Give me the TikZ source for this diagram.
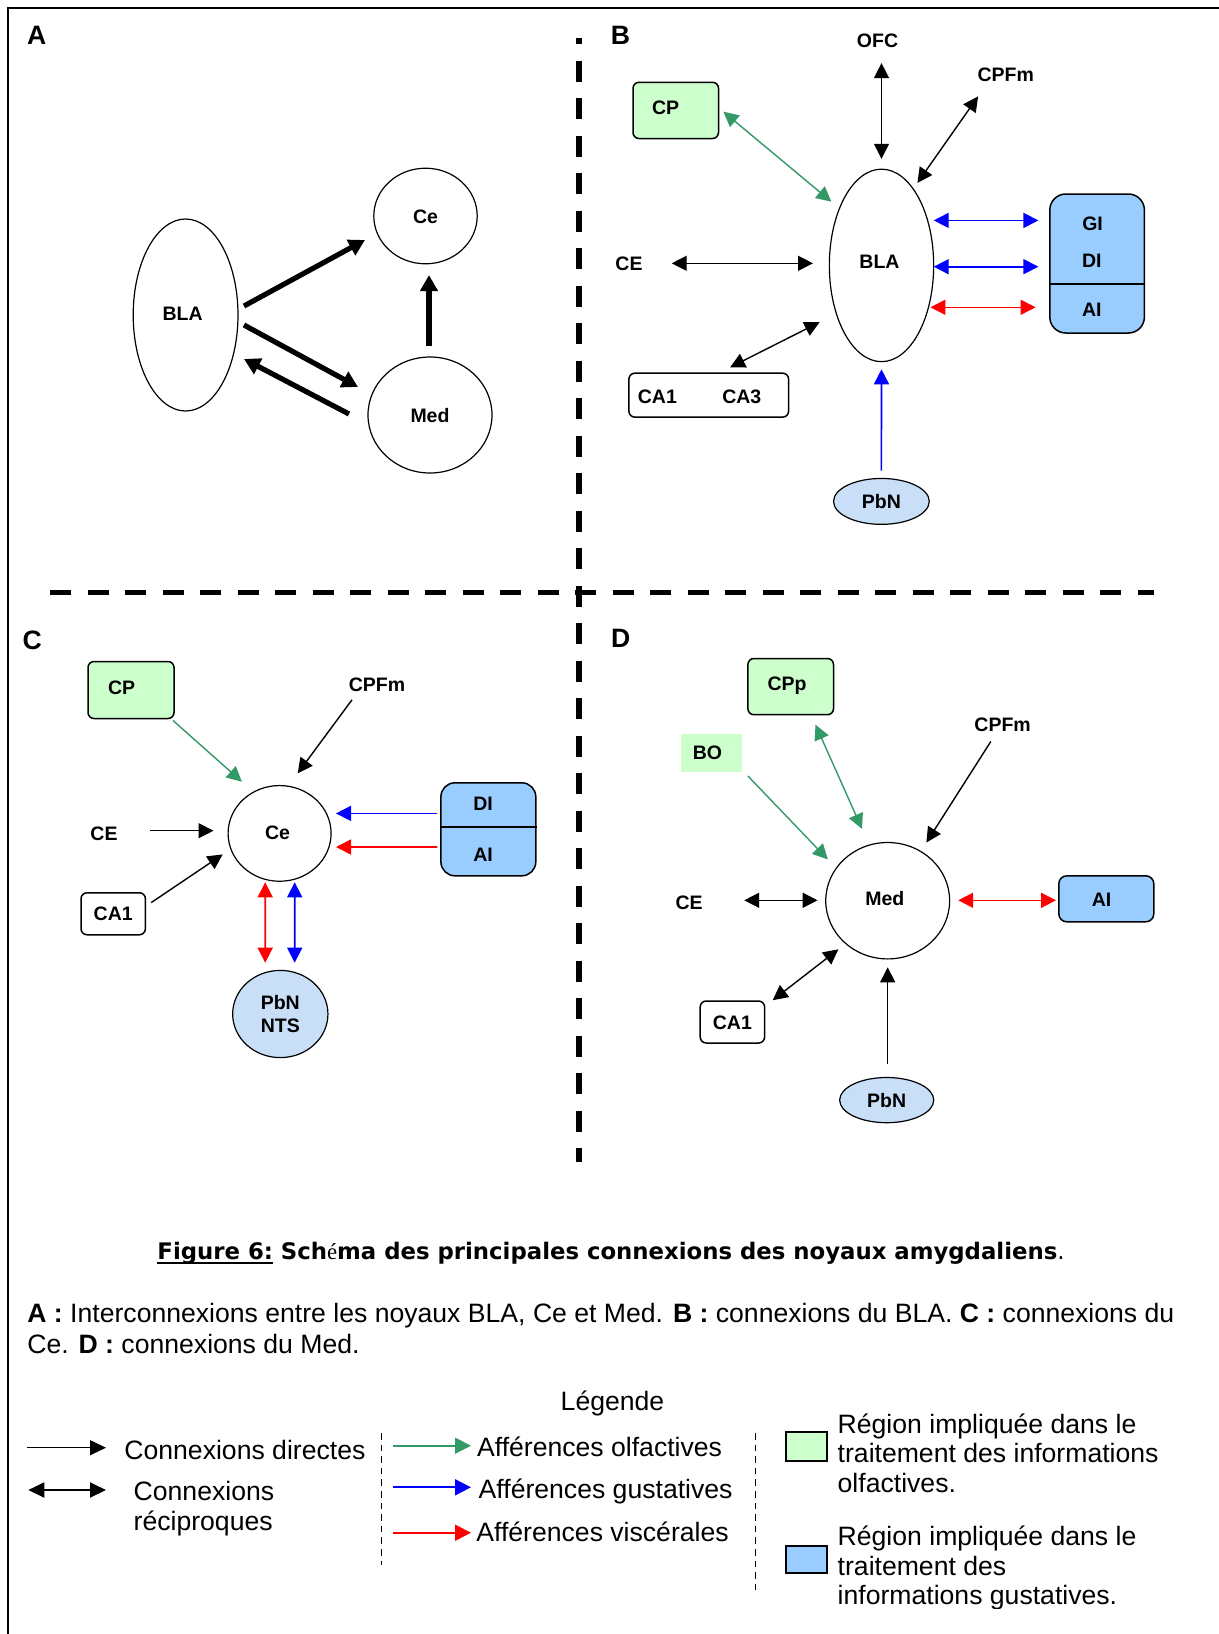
\documentclass[tikz,border=0pt]{standalone}
\usepackage{fontspec}
\setmainfont{Liberation Sans}
\newfontfamily\capfont{DejaVu Sans}
\newfontfamily\serifrm{Liberation Serif}
\usetikzlibrary{arrows.meta,shapes.geometric}
\definecolor{olfgreen}{HTML}{339966}
\definecolor{gusblue}{HTML}{0000FF}
\definecolor{visred}{HTML}{FF0000}
\definecolor{boxgreen}{HTML}{CCFFCC}
\definecolor{boxblue}{HTML}{99CCFF}
\definecolor{pbnblue}{HTML}{C9DFF8}
\newcommand\myul[1]{\setbox0=\hbox{#1}\rlap{\rule[-2.4pt]{\wd0}{0.9pt}}\box0\relax}
\tikzset{
  lbl/.style={font=\fontsize{9.75pt}{11.7pt}\selectfont\bfseries, inner sep=0pt, text height=7pt, text depth=0pt},
  panel/.style={font=\fontsize{13.3pt}{16pt}\selectfont\bfseries, inner sep=0pt, text height=9.5pt, text depth=0pt},
  body/.style={font=\fontsize{13.3pt}{15.3pt}\selectfont, inner sep=0pt, anchor=base west},
  nucbase/.style={ellipse, draw, line width=0.6pt, inner sep=0pt, font=\fontsize{9.75pt}{11.9pt}\selectfont\bfseries},
  nuc/.style={nucbase, text height=7pt, text depth=0pt},
  pbn/.style={fill=pbnblue},
  gbox/.style={draw, rounded corners=3pt, fill=boxgreen, line width=0.75pt, inner sep=0pt},
  bbox/.style={draw, rounded corners=4pt, fill=boxblue, line width=0.75pt, inner sep=0pt},
  wbox/.style={draw, rounded corners=3pt, fill=white, line width=0.75pt, inner sep=0pt, lbl},
  thk/.style={line width=2.6pt, -{Triangle[length=8pt,width=8.5pt]}},
  conb/.style={line width=0.7pt, black},
  cong/.style={line width=0.7pt, olfgreen},
  conu/.style={line width=0.8pt, gusblue},
  conr/.style={line width=0.8pt, visred},
  sep/.style={line width=2.7pt, dash pattern=on 10.5pt off 8.25pt},
  lsep/.style={line width=0.5pt, dash pattern=on 3.3pt off 2.5pt},
  lgarr/.style={-{Triangle[length=8pt,width=7.5pt]}},
}
\begin{document}
\begin{tikzpicture}[x=0.5pt,y=-0.5pt, >={Triangle[length=7.5pt,width=7.5pt]}]
\useasboundingbox (0,0) rectangle (1219,1634);
% frame
\draw[line width=1pt] (8.4,1634) -- (8.4,8.4) -- (1219,8.4);
% separators
\draw[sep, dash phase=7.5pt] (579,38) -- (579,1162);
\draw[sep] (50,592.5) -- (1154,592.5);

% ---------------- Panel A
\node[panel] (labA) at (36.7,35) {A};
\node[nuc, minimum width=52.4pt, minimum height=96pt] (BLAa) at (185.6,315) {};
\node[lbl] (BLAat) at (182.7,313) {BLA};
\node[nuc, minimum width=51.7pt, minimum height=47.8pt] (Cea) at (425.5,216) {Ce};
\node[nuc, minimum width=62pt, minimum height=58pt] (Meda) at (430,415) {Med};
\draw[thk] ([shift={(58.4,-9)}]BLAa.center) -- ([shift={(-60.5,24)}]Cea.center);
\draw[thk] ([shift={(58.4,10)}]BLAa.center) -- ([shift={(-72,-28)}]Meda.center);
\draw[thk] ([shift={(-81,-1)}]Meda.center) -- ([shift={(58.4,44)}]BLAa.center);
\draw[thk] ([shift={(-1,-69)}]Meda.center) -- ([shift={(3.5,59)}]Cea.center);

% ---------------- Panel B
\node[panel] (labB) at (620.4,34.5) {B};
\node[lbl] (OFCb) at (877.5,40.2) {OFC};
\node[lbl] (CPFmb) at (1005.8,74.6) {CPFm};
\node[gbox, minimum width=42.75pt, minimum height=28.1pt] (CPb) at (675.75,110.4) {};
\node[lbl] (CPbt) at (665.6,107.2) {CP};
\node[nuc, minimum width=52.15pt, minimum height=96.25pt] (BLAb) at (881.5,265.4) {};
\node[lbl] (BLAbt) at (879.5,261.4) {BLA};
\node[lbl] (CEb) at (629,263.3) {CE};
\node[bbox, rounded corners=8pt, minimum width=47.3pt, minimum height=69.5pt] (GIb) at (1097.1,263.5) {};
\draw[line width=0.9pt] ([shift={(0,20.1)}]GIb.west) -- ([shift={(0,20.1)}]GIb.east);
\node[lbl] (GIt) at (1092.6,223.9) {GI};
\node[lbl] (DIt) at (1091.8,260.2) {DI};
\node[lbl] (AIt) at (1091.8,309.2) {AI};
\node[wbox, minimum width=79.85pt, minimum height=22pt] (CAb) at (708.75,395.15) {};
\node[lbl] (CA1b) at (657.4,396.1) {CA1};
\node[lbl] (CA3b) at (741.8,396.1) {CA3};
\node[nuc, pbn, minimum width=47.85pt, minimum height=22.95pt] (PbNb) at (881.4,501.4) {PbN};
\draw[conb,<->] ([shift={(4,22.9)}]OFCb.center) -- ([shift={(0,-106.6)}]BLAb.center);
\draw[conb,<->] ([shift={(-27.7,21.8)}]CPFmb.center) -- ([shift={(35.9,-82.5)}]BLAb.center);
\draw[cong,<->] ([shift={(47.65,1.3)}]CPb.center) -- ([shift={(-50.1,-63.7)}]BLAb.center);
\draw[conb,<->] ([shift={(42.7,0)}]CEb.center) -- ([shift={(-68.5,-2.1)}]BLAb.center);
\draw[conu,<->] ([shift={(52.2,-45)}]BLAb.center) -- ([shift={(-58.7,-43.1)}]GIb.center);
\draw[conu,<->] ([shift={(52.2,1.3)}]BLAb.center) -- ([shift={(-58.7,3.2)}]GIb.center);
\draw[conr,<->] ([shift={(48.9,41.9)}]BLAb.center) -- ([shift={(-61.5,43.8)}]GIb.center);
\draw[conb,<->] ([shift={(21.25,-27.75)}]CAb.center) -- ([shift={(-61.9,56.8)}]BLAb.center);
\draw[conu,->] ([shift={(0,-30.7)}]PbNb.center) -- ([shift={(0,103.9)}]BLAb.center);

% ---------------- Panel C
\node[panel] (labC) at (32.2,640) {C};
\node[gbox, minimum width=43pt, minimum height=28.5pt] (CPc) at (131,690) {};
\node[lbl] (CPct) at (121.7,687.2) {CP};
\node[lbl] (CPFmc) at (377,684) {CPFm};
\node[nuc, minimum width=51.5pt, minimum height=47.85pt] (Cec) at (279.6,833.4) {};
\node[lbl] (Cect) at (277.5,832.6) {Ce};
\node[lbl] (CEc) at (104,833.4) {CE};
\node[wbox, minimum width=32.2pt, minimum height=21pt] (CA1c) at (113.2,913.75) {CA1};
\node[bbox, rounded corners=7pt, minimum width=47.45pt, minimum height=46.5pt] (DIAIc) at (488.35,829.3) {};
\draw[line width=0.9pt] ([shift={(0,-2.5)}]DIAIc.west) -- ([shift={(0,-2.5)}]DIAIc.east);
\node[lbl] (DIc) at (483,803) {DI};
\node[lbl] (AIc) at (483,854) {AI};
\node[nucbase, pbn, align=center, minimum width=47.65pt, minimum height=43.6pt] (PbNc) at (280.3,1014) {PbN\\NTS};
\draw[conb,->] ([shift={(-25,15.8)}]CPFmc.center) -- ([shift={(18.1,-60.1)}]Cec.center);
\draw[cong,->] ([shift={(42,30.5)}]CPc.center) -- ([shift={(-37.7,-51.7)}]Cec.center);
\draw[conb,->] ([shift={(46.4,-2.7)}]CEc.center) -- ([shift={(-66.1,-2.7)}]Cec.center);
\draw[conb,->] ([shift={(38,-11.15)}]CA1c.center) -- ([shift={(-56.9,21)}]Cec.center);
\draw[conu,->] ([shift={(-50.95,-15.9)}]DIAIc.center) -- ([shift={(56.4,-20)}]Cec.center);
\draw[conr,->] ([shift={(-50.95,17.7)}]DIAIc.center) -- ([shift={(56.4,13.6)}]Cec.center);
\draw[conr,<->] ([shift={(-14.4,48.9)}]Cec.center) -- ([shift={(-15.1,-51.3)}]PbNc.center);
\draw[conu,<->] ([shift={(15.1,48.9)}]Cec.center) -- ([shift={(14.4,-51.3)}]PbNc.center);

% ---------------- Panel D
\node[panel] (labD) at (620.8,638.2) {D};
\node[gbox, minimum width=42.8pt, minimum height=28.1pt] (CPpd) at (790.7,686.6) {};
\node[lbl] (CPpt) at (787,683.3) {CPp};
\node[fill=boxgreen, inner sep=0pt, minimum width=30.6pt, minimum height=19.15pt] (BOd) at (711.6,753) {};
\node[lbl] (BOt) at (707.5,752.2) {BO};
\node[lbl] (CPFmd) at (1002.6,724.7) {CPFm};
\node[nuc, minimum width=61.95pt, minimum height=58.2pt] (Medd) at (887.7,900.7) {};
\node[lbl] (Medt) at (884.8,898.4) {Med};
\node[lbl] (CEd) at (689.2,902.2) {CE};
\node[bbox, minimum width=47.5pt, minimum height=23pt] (AId) at (1106.3,898.8) {};
\node[lbl] (AIdt) at (1101.6,899.6) {AI};
\node[wbox, minimum width=32.2pt, minimum height=21pt] (CA1d) at (732.4,1022) {CA1};
\node[nuc, pbn, minimum width=47.05pt, minimum height=22.6pt] (PbNd) at (886.7,1100.1) {PbN};
\draw[conb,->] ([shift={(-11.8,16.8)}]CPFmd.center) -- ([shift={(38.7,-58.2)}]Medd.center);
\draw[cong,->] ([shift={(36.3,23)}]BOd.center) -- ([shift={(-59.9,-41.3)}]Medd.center);
\draw[cong,<->] ([shift={(24.8,38.1)}]CPpd.center) -- ([shift={(-25.7,-71.9)}]Medd.center);
\draw[conb,<->] ([shift={(55,-1.9)}]CEd.center) -- ([shift={(-70.1,-0.4)}]Medd.center);
\draw[conr,<->] ([shift={(70.5,-0.4)}]Medd.center) -- ([shift={(-50.3,1.5)}]AId.center);
\draw[conb,<->] ([shift={(40.3,-21.8)}]CA1d.center) -- ([shift={(-49.3,48.6)}]Medd.center);
\draw[conb,->] ([shift={(1,-36)}]PbNd.center) -- ([shift={(0,66.6)}]Medd.center);

% ---------------- Caption
\node[inner sep=0pt, anchor=base, font={\fontsize{11.4pt}{14pt}\capfont\bfseries}] (caption) at (611,1259)
  {\myul{Figure 6:} Sch{\serifrm\mdseries é}ma des principales connexions des noyaux amygdaliens{\mdseries .}};
\node[body] (desc1) at (27,1322) {\textbf{A :} Interconnexions entre les noyaux BLA, Ce et Med. \textbf{B :} connexions du BLA. \textbf{C :} connexions du};
\node[body] (desc2) at (27,1353) {Ce. \textbf{D :} connexions du Med.};

% ---------------- Legend
\node[body, anchor=base] (legtitle) at (612.5,1410.7) {Légende};
\coordinate (l1a) at (26.7,1447.7); \coordinate (l1b) at (106,1447.7);
\draw[line width=0.65pt, lgarr] (l1a) -- (l1b);
\node[body] (t1) at (124,1459) {Connexions directes};
\coordinate (l2a) at (28.3,1490); \coordinate (l2b) at (106,1490);
\draw[line width=1pt, {Triangle[length=8pt,width=7.5pt]}-{Triangle[length=8pt,width=7.5pt]}] (l2a) -- (l2b);
\node[body] (t2a) at (133.3,1500.7) {Connexions};
\node[body] (t2b) at (133.3,1530.7) {réciproques};
\draw[lsep] (381,1433) -- (381,1565);
\coordinate (l3a) at (393.3,1445.7); \coordinate (l3b) at (471,1445.7);
\draw[line width=0.8pt, olfgreen, -{Triangle[length=8pt,width=8pt]}] (l3a) -- (l3b);
\node[body] (t3) at (476.7,1456) {Afférences olfactives};
\coordinate (l4a) at (393.3,1487.3); \coordinate (l4b) at (471,1487.3);
\draw[line width=0.9pt, gusblue, -{Triangle[length=8pt,width=8pt]}] (l4a) -- (l4b);
\node[body] (t4) at (478.3,1498.3) {Afférences gustatives};
\coordinate (l5a) at (393.3,1532.7); \coordinate (l5b) at (471,1532.7);
\draw[line width=0.9pt, visred, -{Triangle[length=8pt,width=8pt]}] (l5a) -- (l5b);
\node[body] (t5) at (476,1541.7) {Afférences viscérales};
\draw[lsep] (755,1433) -- (755,1595);
\node[draw, line width=1pt, fill=boxgreen, inner sep=0pt, minimum width=20.5pt, minimum height=14.2pt] (sqG) at (806.2,1446.5) {};
\node[body] (g1) at (837.3,1433.3) {Région impliquée dans le};
\node[body] (g2) at (837.3,1462.7) {traitement des informations};
\node[body] (g3) at (837.3,1492.7) {olfactives.};
\node[draw, line width=1pt, fill=boxblue, inner sep=0pt, minimum width=20.5pt, minimum height=13.8pt] (sqB) at (806.2,1559.5) {};
\node[body] (b1) at (837.3,1545) {Région impliquée dans le};
\node[body] (b2) at (837.3,1575) {traitement des};
\begin{scope}
\clip (0,0) rectangle (1219,1608);
\node[body] (b3) at (837.3,1604.3) {informations gustatives.};
\end{scope}
\end{tikzpicture}
\end{document}
